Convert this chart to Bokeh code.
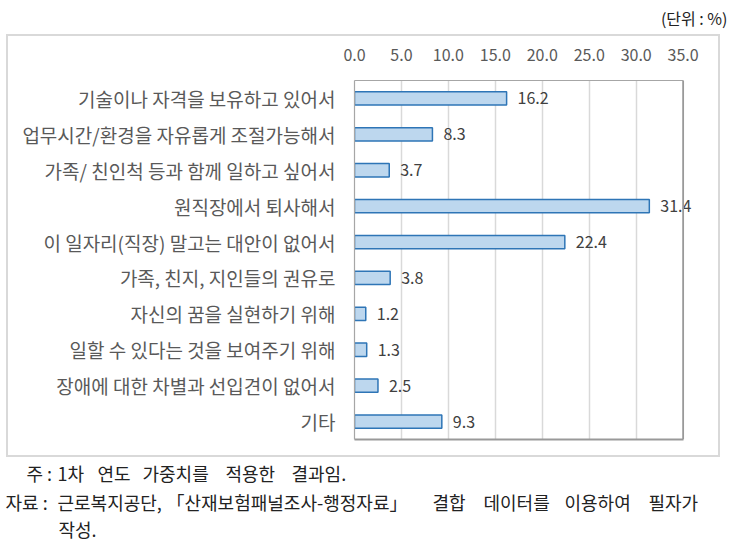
from bokeh.plotting import figure
from bokeh.models import (ColumnDataSource, FactorRange, Range1d, FixedTicker,
                          NumeralTickFormatter, LinearAxis, Span)
from bokeh.layouts import column
from bokeh.core.properties import value
from bokeh.embed import file_html
from bokeh.resources import INLINE

categories = [
    "기술이나 자격을 보유하고 있어서",
    "업무시간/환경을 자유롭게 조절가능해서",
    "가족/ 친인척 등과 함께 일하고 싶어서",
    "원직장에서 퇴사해서",
    "이 일자리(직장) 말고는 대안이 없어서",
    "가족, 친지, 지인들의 권유로",
    "자신의 꿈을 실현하기 위해",
    "일할 수 있다는 것을 보여주기 위해",
    "장애에 대한 차별과 선입견이 없어서",
    "기타",
]
values = [16.2, 8.3, 3.7, 31.4, 22.4, 3.8, 1.2, 1.3, 2.5, 9.3]
x_ticks = [0, 5, 10, 15, 20, 25, 30, 35]
unit_text = "(단위 : %)"
note_words = ["주 :", "1차", "연도", "가중치를", "적용한", "결과임."]
source_words = ["자료 :", "근로복지공단,", "「산재보험패널조사-행정자료」", "결합", "데이터를",
                "이용하여", "필자가"]
source_line3 = ["작성."]

FONT = "Noto Sans CJK KR"
W = 734


def blank(width, height):
    f = figure(width=width, height=height, x_axis_type=None, y_axis_type=None,
               x_range=Range1d(0, width), y_range=Range1d(height, 0),
               output_backend="svg", toolbar_location=None, min_border=0)
    f.frame_align = False
    f.outline_line_color = None
    f.grid.visible = False
    return f


# ---------- header (unit) ----------
head = blank(W, 34)
head.text(x=[727], y=[17], text=[unit_text], text_align="right", text_baseline="middle",
          text_font=value(FONT), text_font_size="16px", text_color="#222222")

# ---------- main chart ----------
src = ColumnDataSource(dict(cat=categories, val=values,
                            lab=[f"{v:.1f}" for v in values]))

x_max = 35 * (712 - 354) / 325.0
main = figure(
    width=710, height=419,
    y_range=FactorRange(factors=list(reversed(categories))),
    x_range=Range1d(0, x_max),
    x_axis_location="above",
    output_backend="svg", toolbar_location=None,
    min_border_left=346, min_border_right=6, min_border_top=44, min_border_bottom=20,
)
main.frame_align = False
main.margin = (0, 0, 0, 6)
main.styles = {"border": "2px solid #d9d9d9", "box-sizing": "content-box"}
main.background_fill_color = "white"
main.border_fill_color = "white"
main.outline_line_color = None

main.xgrid.grid_line_color = "#d9d9d9"
main.xgrid.grid_line_width = 1.5
main.xgrid.ticker = FixedTicker(ticks=x_ticks[1:-1])
main.ygrid.grid_line_color = None

main.add_layout(Span(location=35, dimension="height", line_color="#999999", line_width=1.8))

main.hbar(y="cat", right="val", left=0, height=0.37, source=src,
          fill_color="#BDD7EE", line_color="#2E75B6", line_width=1.5)
main.text(x="val", y="cat", text="lab", source=src, x_offset=11,
          text_baseline="middle", text_align="left",
          text_font=value(FONT), text_font_size="16px", text_color="#404040")

xa = main.xaxis[0]
xa.ticker = FixedTicker(ticks=x_ticks)
xa.bounds = (0, 35)
xa.formatter = NumeralTickFormatter(format="0.0")
xa.major_label_text_font = FONT
xa.major_label_text_font_size = "16px"
xa.major_label_text_color = "#595959"
xa.major_tick_line_color = None
xa.minor_tick_line_color = None
xa.axis_line_color = "#a6a6a6"
xa.axis_line_width = 1.2
xa.major_label_standoff = 14

xb = LinearAxis(ticker=FixedTicker(ticks=[0]), bounds=(0, 35))
xb.major_label_text_font_size = "1px"
xb.major_label_text_alpha = 0
xb.major_label_standoff = 0
xb.major_tick_line_color = None
xb.minor_tick_line_color = None
xb.axis_line_color = "#999999"
xb.axis_line_width = 1.8
main.add_layout(xb, "below")

ya = main.yaxis[0]
ya.major_label_text_font = FONT
ya.major_label_text_font_size = "19px"
ya.major_label_text_color = "#595959"
ya.major_tick_line_color = None
ya.minor_tick_line_color = None
ya.axis_line_color = "#a6a6a6"
ya.axis_line_width = 1.2
ya.major_label_standoff = 13

# ---------- footnotes ----------
foot = blank(W, 100)
note_x = [26, 57, 97, 142, 225, 291]
src_x = [5, 57, 166, 432, 483, 564, 648]
line3_x = [58]
FS = "18px"
foot.text(x=note_x, y=[15] * len(note_x), text=note_words,
          text_baseline="middle", text_font=value(FONT), text_font_size=FS,
          text_color="#222222")
foot.text(x=src_x, y=[44] * len(src_x), text=source_words,
          text_baseline="middle", text_font=value(FONT), text_font_size=FS,
          text_color="#222222")
foot.text(x=line3_x, y=[71], text=source_line3,
          text_baseline="middle", text_font=value(FONT), text_font_size=FS,
          text_color="#222222")

layout = column(head, main, foot, spacing=0)
open("out.html", "w").write(file_html(layout, INLINE))
